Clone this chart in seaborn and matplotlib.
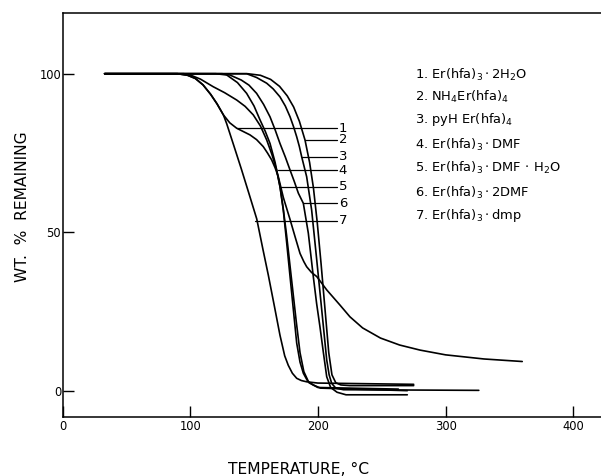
import numpy as np
import pandas as pd
import seaborn as sns
import matplotlib.pyplot as plt

# TGA curves (temperature in C, weight % remaining)
t1 = [33, 90, 98, 104, 110, 116, 121, 126, 131, 136.4, 146.8, 152, 157.2, 160.5, 163.8, 166.5, 169, 172.9,
      178.2, 182.1, 186, 189, 191.2, 195, 199.1, 206.9, 217.3, 225.1, 235, 249, 264, 280, 300, 330, 360]
w1 = [100, 100, 99.5, 98.5, 96.5, 93.5, 90.5, 87, 84.5, 82.8, 80.7, 79.2, 77, 75, 72.8, 70.3, 67.5, 61,
      54, 48.6, 43.3, 40.7, 39.1, 37.3, 36, 31.8, 27, 23.3, 19.8, 16.6, 14.4, 12.8, 11.3, 10, 9.2]
t2 = [33, 145, 155, 163, 170, 176, 181, 185.5, 189.9, 193.5, 196.5, 199.5, 202.5, 205.5, 208.5, 211, 214, 218, 225, 275]
w2 = [100, 100, 99.5, 98.2, 96, 93, 89.5, 85, 79.1, 72, 64, 53, 40, 26, 12, 5, 2.5, 1.8, 1.6, 1.6]
t3 = [33, 135, 144.2, 152, 159.9, 165, 170.3, 174.5, 178.2, 181, 183.4, 185.5, 187.3, 191.2, 195.1, 199.1,
      203, 206.9, 208.8, 210.8, 214, 220, 326]
w3 = [100, 100, 100, 98.8, 97, 95.2, 92.7, 89.8, 86.4, 83.2, 80.1, 77, 73.8, 67.5, 57, 41.2,
      25.5, 9.7, 5, 2.3, 0.8, 0.3, 0.1]
t4 = [33, 95, 100, 108, 118, 127, 136.4, 143, 149.4, 155, 159.9, 164, 167.7, 170.5, 173, 175.5, 178, 180.5,
      183, 186, 189, 193, 200, 263]
w4 = [100, 100, 99.6, 98.3, 95.9, 94, 91.7, 89.7, 87, 83.5, 79.1, 74.5, 69.6, 64, 57, 49, 40, 31,
      22, 12, 6, 2.5, 1, 0.5]
t5 = [33, 110, 120, 128.6, 137, 144.2, 150, 154.7, 158.8, 162.5, 166.5, 170.3, 172.9, 175.6, 179.5, 183.4,
      186, 188.6, 192, 196.4, 202, 270]
w5 = [100, 100, 100, 99.6, 97.2, 93.8, 89.8, 85.4, 81.8, 78, 72, 64.4, 57, 46.5, 30.7, 15,
      9, 5.5, 3, 1.8, 0.8, 0]
t6 = [33, 115, 125, 131, 140, 146, 152, 157.5, 162.5, 166.5, 170.3, 174.5, 178.2, 181.5, 184.7, 188.6,
      192.5, 196.4, 199, 201.6, 204.3, 206.9, 210, 215, 222, 270]
w6 = [100, 100, 100, 99.6, 98, 96.4, 93.8, 90.3, 86.4, 82.3, 78, 73.7, 69.6, 66, 62.3, 59.1,
      49.7, 36, 27.5, 20.2, 12, 4.4, 1, -0.5, -1.3, -1.3]
t7 = [33, 90, 98, 104, 110, 116, 121, 126, 128.6, 134, 140, 146, 152.1, 157, 161.2, 166, 170.3, 174,
      176.8, 180, 183.4, 187, 191.2, 200, 275]
w7 = [100, 100, 99.5, 98.5, 96.5, 93.5, 90.5, 87, 84.2, 77.5, 70, 62.2, 54.2, 44.5, 36.4, 26.5, 17.5, 11,
      8, 5.5, 3.9, 3.2, 2.8, 2.4, 2]

compounds = [
    r"Er(hfa)$_3\cdot$2H$_2$O",
    r"NH$_4$Er(hfa)$_4$",
    r"pyH Er(hfa)$_4$",
    r"Er(hfa)$_3\cdot$DMF",
    r"Er(hfa)$_3\cdot$DMF$\,\cdot\,$H$_2$O",
    r"Er(hfa)$_3\cdot$2DMF",
    r"Er(hfa)$_3\cdot$dmp",
]
# where each numbered leader line meets its curve
leader_w = [82.8, 79.1, 73.8, 69.6, 64.4, 59.1, 53.6]
leader_t = [136.4, 189.9, 187.3, 169.0, 170.3, 188.6, 150.7]

temps = [t1, t2, t3, t4, t5, t6, t7]
weights = [w1, w2, w3, w4, w5, w6, w7]
rows = []
for i, (t, w) in enumerate(zip(temps, weights)):
    for a, b in zip(t, w):
        rows.append({"curve": i + 1, "T": a, "W": b})
df = pd.DataFrame(rows)

sns.set_style("ticks")
plt.rcParams["font.family"] = ["DejaVu Sans"]
for k in ["text.color", "axes.labelcolor", "xtick.color", "ytick.color", "axes.edgecolor"]:
    plt.rcParams[k] = "black"

fig = plt.figure(figsize=(6.01, 4.76), dpi=100)
ax = fig.add_axes([0.104, 0.124, 0.896, 0.849])

sns.lineplot(data=df, x="T", y="W", units="curve", estimator=None, sort=False,
             color="black", linewidth=1.2, ax=ax)

# numbered leader lines
for i, (lw, lt) in enumerate(zip(leader_w, leader_t)):
    ax.plot([lt, 214.6], [lw, lw], color="black", linewidth=0.9)
    ax.text(219.7, lw, str(i + 1), ha="center", va="center", fontsize=9.5)

# compound key
key_y = [75, 96.7, 120, 145, 168, 193, 215]
for i, (name, yp) in enumerate(zip(compounds, key_y)):
    fig.text(415 / 601, 1 - yp / 476, f"{i + 1}. {name}", ha="left", va="center", fontsize=9.4)

ax.set_xlim(0, 421.7)
ax.set_ylim(-8.3, 119.2)
ax.set_xticks([0, 100, 200, 300, 400])
ax.set_yticks([0, 50, 100])
ax.tick_params(direction="in", length=8, width=1, labelsize=8.3, pad=2)
ax.tick_params(axis="y", pad=1)
ax.spines["right"].set_visible(False)
for s in ["left", "bottom", "top"]:
    ax.spines[s].set_linewidth(1.1)

ax.set_xlabel("TEMPERATURE, °C", fontsize=11.2)
ax.set_ylabel("WT.  %  REMAINING", fontsize=11.2)
ax.xaxis.set_label_coords(0.439, -0.129)
ax.xaxis.label.set_va("center")
ax.yaxis.set_label_coords(-0.075, 0.52)
ax.yaxis.label.set_va("center")

fig.savefig("out.png", dpi=100)
